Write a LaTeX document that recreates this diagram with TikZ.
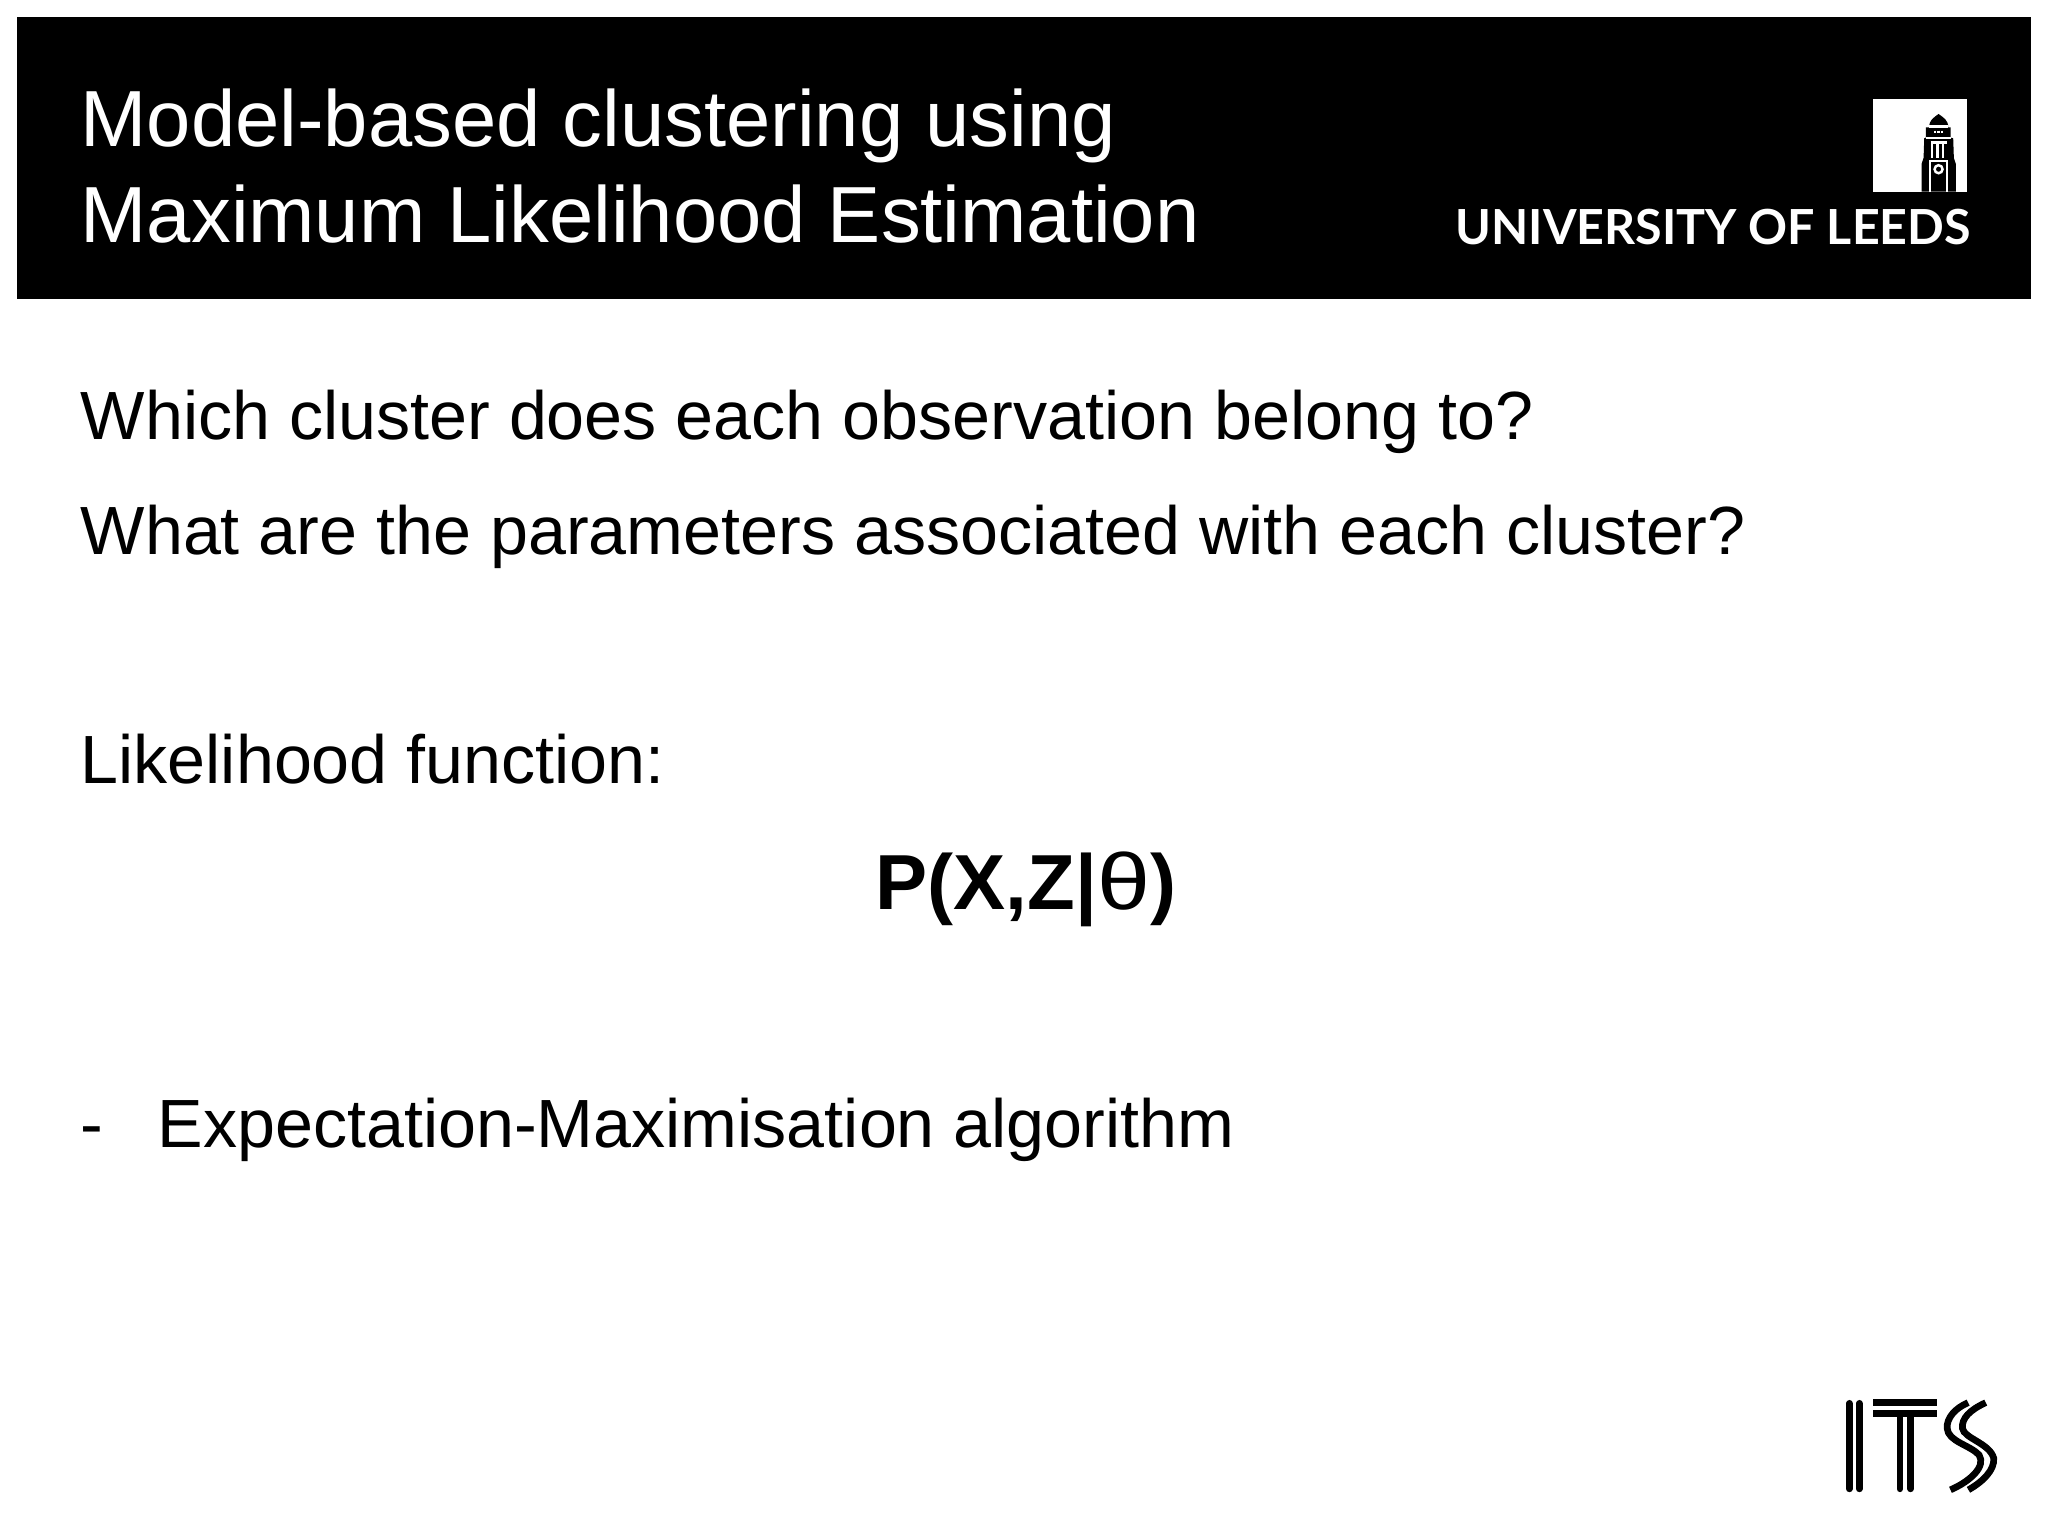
\documentclass[tikz,border=0pt]{standalone}
\usepackage{fontspec}
\setmainfont{Liberation Sans}
\newfontfamily\logofont{Lato}
\tikzset{
titletext/.style={anchor=base west,inner sep=0pt,text=white,font=\fontsize{22.63}{26}\selectfont},
bodytext/.style={anchor=base west,inner sep=0pt,text=black,font=\fontsize{19.4}{22}\selectfont},
formulatext/.style={anchor=base west,inner sep=0pt,text=black,font=\fontsize{22.2}{26}\selectfont},
logotext/.style={anchor=base west,inner sep=0pt,text=white,font=\logofont\bfseries\fontsize{13.75}{16}\selectfont},
itsline/.style={line width=1.9pt,line cap=round},
towerline/.style={draw=white,line width=0.7pt}
}
\begin{document}
\begin{tikzpicture}[x=0.01cm,y=-0.01cm]
\useasboundingbox (0,0) rectangle (2048,1536);
\fill[white](0,0)rectangle(2048,1536);
\fill[black](17,17)rectangle(2031,299);
\node[titletext](titleone)at(80,146){Model-based clustering using};
\node[titletext](titletwo)at(80,242){Maximum Likelihood Estimation};
\node[bodytext](lineone)at(80,439){Which cluster does each observation belong to?};
\node[bodytext](linetwo)at(80,554){What are the parameters associated with each cluster?};
\node[bodytext](linethree)at(80,783){Likelihood function:};
\node[formulatext](formula)at(875,909){\textbf{P(X,Z|}\scalebox{1.22}[1.02]{θ}\textbf{)}};
\node[bodytext](dash)at(80,1147){-};
\node[bodytext](linefour)at(157,1147){Expectation-Maximisation algorithm};
\node[logotext](leeds)at(1455,244){UNIVERSITY OF LEEDS};
\begin{scope}[shift={(1860,90)},x=0.00333cm,y=-0.00333cm]
\fill[white](38,27)rectangle(322,305);
\fill[black](185,305)--(185,222)--(191,204)--(193,145)--(198,143)--(198,112)--(208,112)..controls(208,90)and(220,84)..(236,72)..controls(252,84)and(265,90)..(265,112)--(272,112)--(272,143)--(280,145)--(282,204)--(288,222)--(288,305)--cycle;
\draw[towerline](208,110)--(265,110);
\draw[towerline](198,145)--(274,145);
\draw[towerline](212,158)--(262,158);
\foreach \i in {216,233,250}{\draw[towerline](\i,158)--(\i,203);}
\foreach \i in {225,236,247}{\draw[towerline](\i,122)--(\i,130);}
\draw[towerline](210,305)--(210,213)--(262,213)--(262,305);
\draw[towerline](236,238)circle(12);
\end{scope}
\begin{scope}[shift={(1820,1380)},x=0.00333cm,y=-0.00333cm]
\draw[itsline](88,70)--(88,327);
\draw[itsline](118,70)--(118,327);
\draw[itsline,line cap=butt](160,68)--(353,68);
\draw[itsline,line cap=butt](160,101)--(353,101);
\draw[itsline](240,101)--(240,327);
\draw[itsline](272,101)--(272,327);
\draw[itsline,line cap=butt](445,68)..controls(405,85)and(380,115)..(382,145)..controls(385,185)and(450,195)..(478,225)..controls(500,260)and(450,305)..(392,330);
\draw[itsline,line cap=butt](498,68)..controls(450,90)and(425,115)..(428,145)..controls(432,175)and(510,190)..(522,235)..controls(525,270)and(490,305)..(446,330);
\end{scope}
\end{tikzpicture}
\end{document}
